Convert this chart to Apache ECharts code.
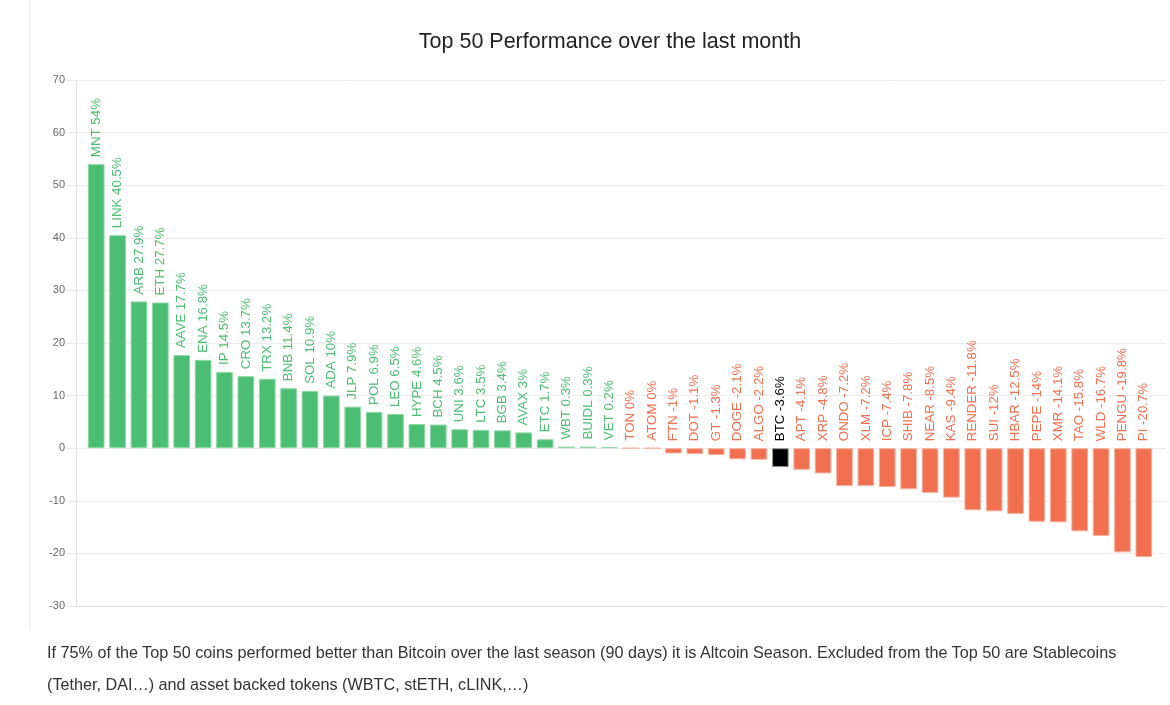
<!DOCTYPE html>
<html>
<head>
<meta charset="utf-8">
<script src="https://cdn.jsdelivr.net/npm/echarts@6/dist/echarts.min.js"></script>
<style>
html,body{margin:0;padding:0;background:#fff;width:1170px;height:705px;overflow:hidden;}
#chart{position:absolute;left:0;top:0;width:1170px;height:640px;}
#border{position:absolute;left:29px;top:0;width:1px;height:628px;background:#ececec;}
#note{position:absolute;left:47px;top:636px;font-family:"Liberation Sans",Arial,Helvetica,sans-serif;font-size:16.2px;line-height:32px;color:#333;white-space:nowrap;}
</style>
</head>
<body>
<div id="border"></div>
<div id="chart"></div>
<div id="note">If 75% of the Top 50 coins performed better than Bitcoin over the last season (90 days) it is Altcoin Season. Excluded from the Top 50 are Stablecoins<br>(Tether, DAI…) and asset backed tokens (WBTC, stETH, cLINK,…)</div>
<script>
const titleText = 'Top 50 Performance over the last month';
const coins = ['MNT','LINK','ARB','ETH','AAVE','ENA','IP','CRO','TRX','BNB','SOL','ADA','JLP','POL','LEO','HYPE','BCH','UNI','LTC','BGB','AVAX','ETC','WBT','BUIDL','VET','TON','ATOM','FTN','DOT','GT','DOGE','ALGO','BTC','APT','XRP','ONDO','XLM','ICP','SHIB','NEAR','KAS','RENDER','SUI','HBAR','PEPE','XMR','TAO','WLD','PENGU','PI'];
const performance = [54,40.5,27.9,27.7,17.7,16.8,14.5,13.7,13.2,11.4,10.9,10,7.9,6.9,6.5,4.6,4.5,3.6,3.5,3.4,3,1.7,0.3,0.3,0.2,0,0,-1,-1.1,-1.3,-2.1,-2.2,-3.6,-4.1,-4.8,-7.2,-7.2,-7.4,-7.8,-8.5,-9.4,-11.8,-12,-12.5,-14,-14.1,-15.8,-16.7,-19.8,-20.7];
const yTicks = [-30,-20,-10,0,10,20,30,40,50,60,70];
const reference = 'BTC';

const GREEN = '#4cbe73', GREEN_B = '#8fd8a6';
const RED = '#f0704f', RED_B = '#f6b3a2';
const BLACK = '#000000', BLACK_B = '#999999';

const font = '"Liberation Sans", Arial, Helvetica, sans-serif';

const barData = coins.map((c, i) => {
  const v = performance[i];
  let fill, border;
  if (c === reference) { fill = BLACK; border = BLACK_B; }
  else if (v > 0) { fill = GREEN; border = GREEN_B; }
  else { fill = RED; border = RED_B; }
  return {
    value: v,
    itemStyle: { color: fill, borderColor: border, borderWidth: 1 },
    label: { color: fill }
  };
});

const chart = echarts.init(document.getElementById('chart'));
chart.setOption({
  animation: false,
  title: {
    text: titleText,
    left: 605,
    top: 26,
    textAlign: 'center',
    textStyle: { fontFamily: font, fontSize: 21.5, fontWeight: 'normal', color: '#222' }
  },
  grid: [
    { left: 76, right: 4, top: 80, bottom: 34 },
    { left: 85.5, right: 15.5, top: 80, bottom: 34 }
  ],
  xAxis: [
    { gridIndex: 0, type: 'category', data: coins, axisLine: { show: true, onZero: false, lineStyle: { color: '#dcdcdc' } }, axisTick: { show: false }, axisLabel: { show: false } },
    { gridIndex: 1, type: 'category', data: coins, axisLine: { show: false }, axisTick: { show: false }, axisLabel: { show: false } }
  ],
  yAxis: [
    {
      gridIndex: 0, type: 'value', min: yTicks[0], max: yTicks[yTicks.length - 1], interval: 10,
      axisLine: { show: true, lineStyle: { color: '#e0e0e0' } },
      axisTick: { show: true, length: 9, lineStyle: { color: '#e6e6e6' } },
      axisLabel: { color: '#666', fontFamily: font, fontSize: 11, margin: 11 },
      splitLine: { lineStyle: { color: '#ececec' } }
    },
    { gridIndex: 1, type: 'value', min: yTicks[0], max: yTicks[yTicks.length - 1], interval: 10, show: false, splitLine: { show: false } }
  ],
  series: [{
    type: 'bar',
    xAxisIndex: 1,
    yAxisIndex: 1,
    data: barData,
    barCategoryGap: '22%',
    label: {
      show: true,
      position: 'top',
      rotate: 90,
      align: 'left',
      verticalAlign: 'middle',
      distance: 7,
      fontFamily: font,
      fontSize: 13.3,
      formatter: p => coins[p.dataIndex] + ' ' + performance[p.dataIndex] + '%'
    }
  }]
});
</script>
</body>
</html>
